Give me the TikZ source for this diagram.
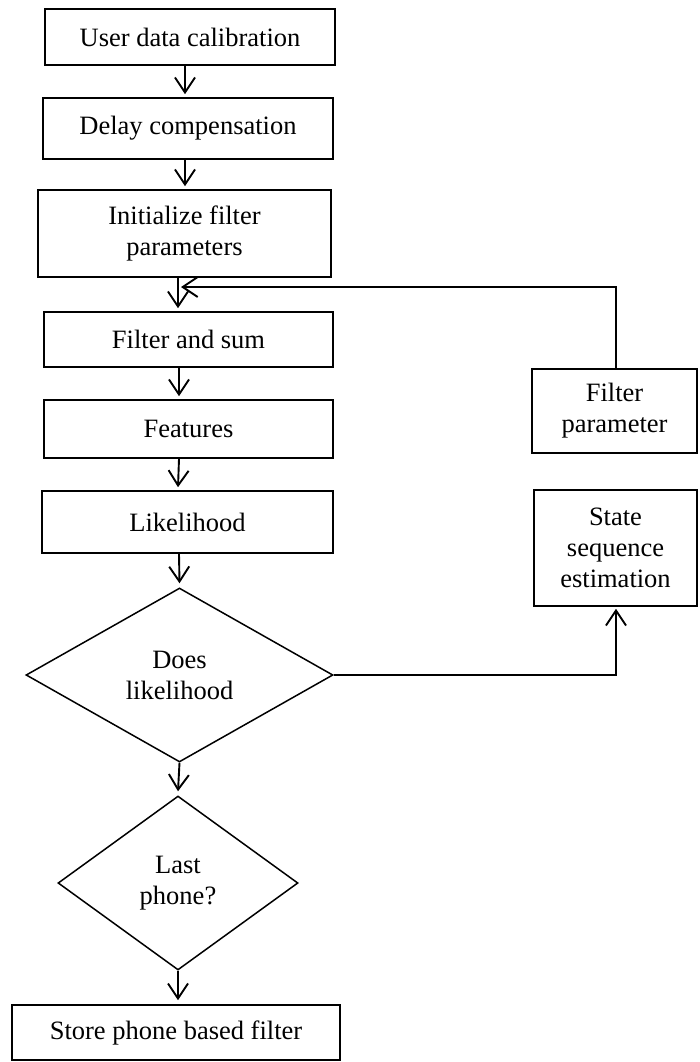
\documentclass[tikz,border=0pt]{standalone}
\usepackage{fontspec}
\setmainfont{Liberation Serif}
\usetikzlibrary{arrows.meta,shapes.geometric}
\begin{document}
\begin{tikzpicture}[x=1pt,y=-1pt,
  every node/.style={font=\fontsize{26.5}{31}\selectfont, align=center, inner sep=0pt},
  box/.style={draw, line width=1.6pt, rectangle},
  dec/.style={draw, line width=1.5pt, diamond, aspect=1.76},
  arr/.style={line width=1.9pt, -{Straight Barb[length=15pt,width=20pt,line width=1.9pt]}}]
\useasboundingbox (0,0) rectangle (699,1062);
\node[box, minimum width=290pt, minimum height=56pt] (b1) at (190,37) {User data calibration};
\node[box, minimum width=290pt, minimum height=61pt] (b2) at (188,128.5) {Delay compensation};
\node[box, minimum width=293pt, minimum height=87pt] (b3) at (184.5,233.5) {Initialize filter\\parameters};
\node[box, minimum width=289pt, minimum height=55pt] (b4) at (188.5,339.5) {Filter and sum};
\node[box, minimum width=289pt, minimum height=58pt] (b5) at (188.5,429) {Features};
\node[box, minimum width=291pt, minimum height=62pt] (b6) at (187.5,522) {Likelihood};
\node[dec, minimum width=307pt, minimum height=174pt] (d1) at (179.5,675) {Does\\likelihood};
\node[dec, minimum width=240pt, minimum height=174pt] (d2) at (178,883) {Last\\phone?};
\node[box, minimum width=328pt, minimum height=55pt] (st) at (176,1032.5) {Store phone based filter};
\node[box, minimum width=165pt, minimum height=84pt] (fp) at (614.5,411) {Filter\\parameter};
\node[box, minimum width=163pt, minimum height=116pt] (ss) at (615.5,548) {State\\sequence\\estimation};
\coordinate (fb) at (181,287);
\draw[arr] ([xshift=-5pt]b1.south) -- ([xshift=-3pt,yshift=3pt]b2.north);
\draw[arr] ([xshift=-3pt]b2.south) -- ([xshift=0.5pt,yshift=3pt]b3.north);
\draw[arr] ([xshift=-6.5pt]b3.south) -- ([xshift=-10.5pt,yshift=3pt]b4.north);
\draw[arr] ([xshift=-9.5pt]b4.south) -- ([xshift=-9.5pt,yshift=3pt]b5.north);
\draw[arr] ([xshift=-9.5pt]b5.south) -- ([xshift=-9.5pt,yshift=3pt]b6.north);
\draw[arr] ([xshift=-8.5pt]b6.south) -- ([yshift=4pt]d1.north);
\draw[arr] (d1.south) -- ([yshift=4pt]d2.north);
\draw[arr] (d2.south) -- ([xshift=2pt,yshift=4pt]st.north);
\draw[arr] ([xshift=1.5pt]fp.north) |- (fb);
\draw[arr] (d1.east) -| ([xshift=0.5pt,yshift=-2pt]ss.south);
\end{tikzpicture}
\end{document}
